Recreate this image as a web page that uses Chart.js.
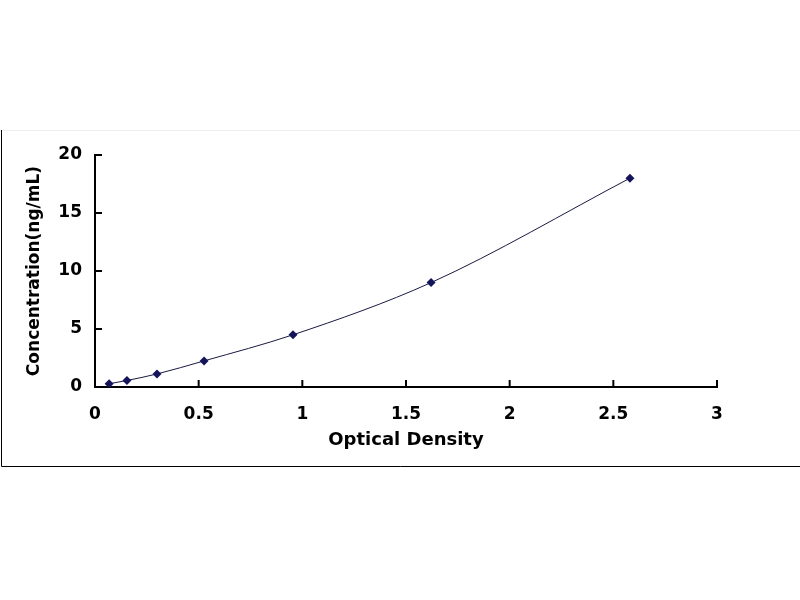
<!DOCTYPE html>
<html lang="en">
<head>
    <meta charset="UTF-8">
    <title>Standard Curve</title>
    <script src="https://cdn.jsdelivr.net/npm/chart.js"></script>
    <style>
        body { margin: 0; padding: 0; background: #ffffff; }
        #wrap { width: 800px; height: 600px; }
    </style>
</head>
<body>
    <div id="wrap"><canvas id="curve" width="800" height="600"></canvas></div>

    <script>
        // standard curve points
        const opticalDensity = [0.068, 0.154, 0.299, 0.526, 0.955, 1.621, 2.58];
        const concentration = [0.28, 0.56, 1.125, 2.25, 4.5, 9, 18];
        const xTicks = [0, 0.5, 1, 1.5, 2, 2.5, 3];
        const yTicks = [0, 5, 10, 15, 20];

        const points = opticalDensity.map((x, i) => ({ x: x, y: concentration[i] }));
        const tickFont = { family: "'DejaVu Sans', Arial, sans-serif", size: 17, weight: 'bold' };
        const xTitleFont = { family: "'DejaVu Sans', Arial, sans-serif", size: 18, weight: 'bold' };
        const yTitleFont = { family: "'DejaVu Sans', Arial, sans-serif", size: 17, weight: 'bold' };

        // outer frame plus inward tick marks
        const framePlugin = {
            id: 'frame',
            beforeDraw(chart) {
                const c = chart.ctx;
                c.save();
                c.fillStyle = '#ffffff';
                c.fillRect(0, 0, chart.width, chart.height);
                c.strokeStyle = '#eeeeee';
                c.lineWidth = 1;
                c.beginPath(); c.moveTo(0, 130.5); c.lineTo(800, 130.5); c.stroke();
                c.strokeStyle = '#000000';
                c.beginPath(); c.moveTo(1.5, 130); c.lineTo(1.5, 466.5); c.lineTo(800, 466.5); c.stroke();
                c.restore();
            },
            afterDraw(chart) {
                const c = chart.ctx;
                const xs = chart.scales.x, ys = chart.scales.y;
                c.save();
                c.strokeStyle = '#000000';
                c.lineWidth = 2;
                c.beginPath();
                xTicks.forEach(v => {
                    const px = xs.getPixelForValue(v);
                    c.moveTo(px, ys.bottom); c.lineTo(px, ys.bottom - 7);
                });
                yTicks.forEach(v => {
                    const py = ys.getPixelForValue(v);
                    c.moveTo(xs.left, py); c.lineTo(xs.left + 7, py);
                });
                c.stroke();
                c.restore();
            }
        };

        new Chart(document.getElementById('curve').getContext('2d'), {
            type: 'scatter',
            data: {
                datasets: [{
                    data: points,
                    showLine: true,
                    borderColor: '#1a1a44',
                    borderWidth: 1,
                    cubicInterpolationMode: 'monotone',
                    pointStyle: 'rectRot',
                    pointRadius: 4.5,
                    pointBackgroundColor: '#14145a',
                    pointBorderColor: '#14145a',
                    pointBorderWidth: 0
                }]
            },
            options: {
                responsive: false,
                animation: false,
                layout: { padding: { left: 18, top: 155, right: 83, bottom: 149 } },
                plugins: { legend: { display: false }, tooltip: { enabled: false } },
                scales: {
                    x: {
                        type: 'linear',
                        min: 0, max: 3,
                        afterBuildTicks: s => { s.ticks = xTicks.map(v => ({ value: v })); },
                        afterFit: s => { s.height = 64; },
                        grid: { display: false, drawTicks: false },
                        border: { display: true, color: '#000000', width: 2 },
                        ticks: { color: '#000000', font: tickFont, padding: 17, maxRotation: 0, callback: v => String(v) },
                        title: { display: true, text: 'Optical Density', color: '#000000', font: xTitleFont, padding: { top: 8, bottom: 0 } }
                    },
                    y: {
                        type: 'linear',
                        min: 0, max: 20,
                        afterBuildTicks: s => { s.ticks = yTicks.map(v => ({ value: v })); },
                        afterFit: s => { s.width = 77; },
                        grid: { display: false, drawTicks: false },
                        border: { display: true, color: '#000000', width: 2 },
                        ticks: { color: '#000000', font: tickFont, padding: 13, callback: v => String(v) },
                        title: { display: true, text: 'Concentration(ng/mL)', color: '#000000', font: yTitleFont, padding: { top: 6, bottom: 0 } }
                    }
                }
            },
            plugins: [framePlugin]
        });
    </script>
</body>
</html>
